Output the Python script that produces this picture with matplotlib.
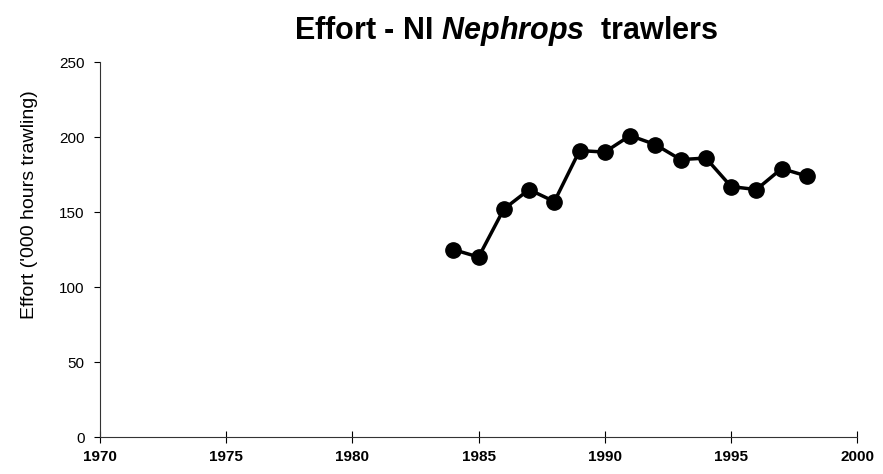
import matplotlib
matplotlib.use("Agg")
import matplotlib.pyplot as plt

plt.rcParams['font.family'] = ['Liberation Sans', 'DejaVu Sans']
plt.rcParams['mathtext.fontset'] = 'custom'
plt.rcParams['mathtext.it'] = 'Liberation Sans:bold:italic'
plt.rcParams['mathtext.rm'] = 'Liberation Sans:bold'

years = [1984, 1985, 1986, 1987, 1988, 1989, 1990, 1991, 1992, 1993, 1994, 1995, 1996, 1997, 1998]
effort = [125, 120, 152, 165, 157, 191, 190, 201, 195, 185, 186, 167, 165, 179, 174]

xticks = [1970, 1975, 1980, 1985, 1990, 1995, 2000]
yticks = [0, 50, 100, 150, 200, 250]

fig = plt.figure(figsize=(8.83, 4.74), dpi=100)
ax = fig.add_axes([0.113, 0.078, 0.858, 0.791])

ax.plot(years, effort, color='black', lw=2.5, marker='o', ms=11, mfc='black', mec='black')

ax.set_xlim(1970, 2000)
ax.set_ylim(0, 250)
ax.set_xticks(xticks)
ax.set_yticks(yticks)
ax.tick_params(axis='x', direction='inout', length=8, width=0.8, labelsize=11, pad=5)
ax.tick_params(axis='y', direction='out', length=4, width=0.8, labelsize=11, pad=7)
for lab in ax.get_xticklabels():
    lab.set_fontweight('bold')

for s in ['top', 'right']:
    ax.spines[s].set_visible(False)
for s in ['left', 'bottom']:
    ax.spines[s].set_linewidth(0.8)
    ax.spines[s].set_color('#333333')

ax.set_ylabel("Effort ('000 hours trawling)", fontsize=14)
ax.yaxis.set_label_coords(-0.082, 0.62)
fig.text(0.573, 0.935, "Effort - NI $Nephrops$  trawlers", fontsize=22,
         fontweight='bold', ha='center', va='center')

fig.savefig("out.png", dpi=100)
